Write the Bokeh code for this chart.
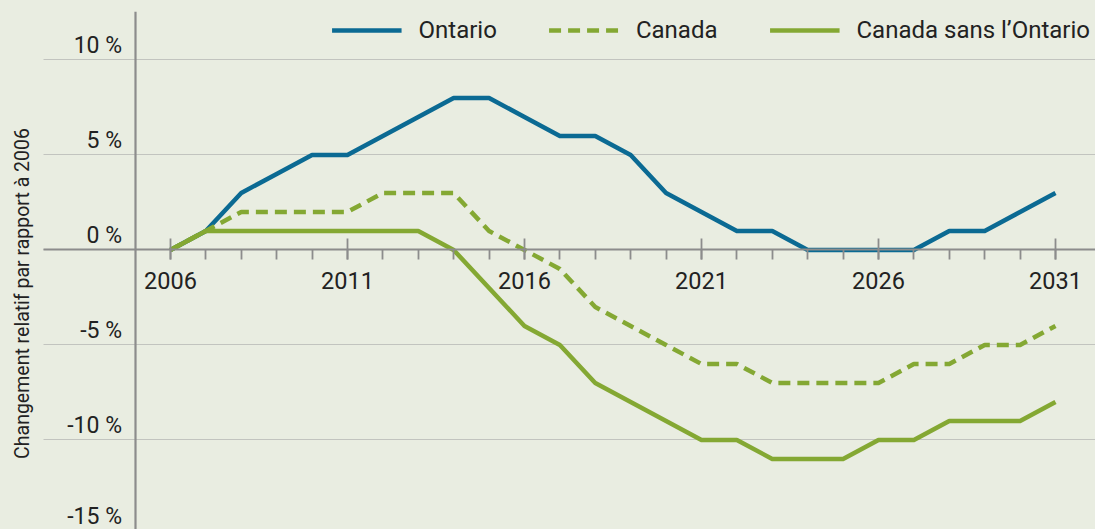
import math
from bokeh.plotting import figure
from bokeh.models import (Range1d, FixedTicker, LinearAxis, Legend, LegendItem, Label, Grid)
from bokeh.embed import file_html
from bokeh.resources import INLINE

years = list(range(2006, 2032))
ontario = [0, 1, 3, 4, 5, 5, 6, 7, 8, 8, 7, 6, 6, 5, 3, 2, 1, 1, 0, 0, 0, 0, 1, 1, 2, 3]
canada = [0, 1, 2, 2, 2, 2, 3, 3, 3, 1, 0, -1, -3, -4, -5, -6, -6, -7, -7, -7, -7, -6, -6, -5, -5, -4]
canada_sans = [0, 1, 1, 1, 1, 1, 1, 1, 0, -2, -4, -5, -7, -8, -9, -10, -10, -11, -11, -11, -10, -10, -9, -9, -9, -8]

x_major_ticks = [2006, 2011, 2016, 2021, 2026, 2031]
y_ticks = [-15, -10, -5, 0, 5, 10]
y_tick_labels = {-15: "-15 %", -10: "-10 %", -5: "-5 %", 0: "0 %", 5: "5 %", 10: "10 %"}
series_names = ["Ontario", "Canada", "Canada sans l’Ontario"]
y_title = "Changement relatif par rapport à 2006"

BG = "#e9ede1"
BLUE = "#0b6a93"
GREEN = "#84a833"
FONT = "Roboto"
TXT = "#222222"

X0, X1 = 2001.2, 2032.13      # full frame (canvas) extent
XL = 2002.41                   # where grid lines and x axis begin
Y0, Y1 = -14.71, 12.55
LAB_SHIFT = 0.74               # raise y tick labels above their grid lines

p = figure(width=1095, height=529, output_backend="svg", toolbar_location=None,
           x_range=Range1d(X0, X1), y_range=Range1d(Y0, Y1),
           x_axis_location=None, y_axis_location=None,
           min_border_left=0, min_border_right=0, min_border_top=11, min_border_bottom=0)
p.background_fill_color = BG
p.border_fill_color = BG
p.outline_line_color = None
p.extra_y_ranges = {"lab": Range1d(Y0 - LAB_SHIFT, Y1 - LAB_SHIFT)}

# grid
p.xgrid.visible = False
p.ygrid.ticker = FixedTicker(ticks=y_ticks)
p.ygrid.grid_line_color = "#c2c4bf"
p.ygrid.grid_line_width = 1.2
if "cross_bounds" in Grid.properties():
    p.ygrid.cross_bounds = (XL, X1)

# x axis at y=0
xax = LinearAxis(fixed_location=0, bounds=(XL, X1),
                 ticker=FixedTicker(ticks=x_major_ticks, minor_ticks=years))
xax.axis_line_color = "#8c8c8c"
xax.axis_line_width = 1.8
xax.major_tick_line_color = "#8c8c8c"
xax.major_tick_line_width = 1.8
xax.major_tick_in = 11
xax.major_tick_out = 10
xax.minor_tick_line_color = "#8c8c8c"
xax.minor_tick_line_width = 1.8
xax.minor_tick_in = 0
xax.minor_tick_out = 10
xax.major_label_text_font = FONT
xax.major_label_text_font_size = "23.5px"
xax.major_label_text_color = TXT
xax.major_label_standoff = 12
p.add_layout(xax, "below")

# y axis at x=2005 (labels on a slightly shifted range so they sit above the grid lines)
yax = LinearAxis(fixed_location=2005, y_range_name="lab", ticker=FixedTicker(ticks=y_ticks))
yax.major_label_overrides = y_tick_labels
yax.axis_line_color = "#8c8c8c"
yax.axis_line_width = 2.2
yax.major_tick_line_color = None
yax.major_tick_in = 0
yax.major_tick_out = 0
yax.minor_tick_line_color = None
yax.major_label_text_font = FONT
yax.major_label_text_font_size = "23px"
yax.major_label_text_color = TXT
yax.major_label_standoff = 13
p.add_layout(yax, "left")

r_ont = p.line(years, ontario, line_color=BLUE, line_width=4.5, line_join="round")
r_can = p.line(years, canada, line_color=GREEN, line_width=4.5, line_dash="12 7", line_join="round")
r_sans = p.line(years, canada_sans, line_color=GREEN, line_width=4.5, line_join="round")

legend = Legend(items=[LegendItem(label=series_names[0], renderers=[r_ont]),
                       LegendItem(label=series_names[1], renderers=[r_can]),
                       LegendItem(label=series_names[2], renderers=[r_sans])],
                location="top_right", orientation="horizontal")
legend.background_fill_alpha = 0
legend.border_line_color = None
legend.label_text_font = FONT
legend.label_text_font_size = "24px"
legend.label_text_color = TXT
legend.glyph_width = 70
legend.glyph_height = 24
legend.label_standoff = 17
legend.spacing = 52
legend.padding = 0
legend.margin = 5
p.add_layout(legend)

lab = Label(x=22, y=-2.29, x_units="screen", y_units="data", text=y_title,
            angle=math.pi / 2, text_align="center", text_baseline="middle",
            text_font=FONT, text_font_size="19.5px", text_color=TXT)
p.add_layout(lab)

html = file_html(p, INLINE)
html = html.replace("</head>", "<style>body{background:%s;}</style></head>" % BG, 1)
open("out.html", "w").write(html)
